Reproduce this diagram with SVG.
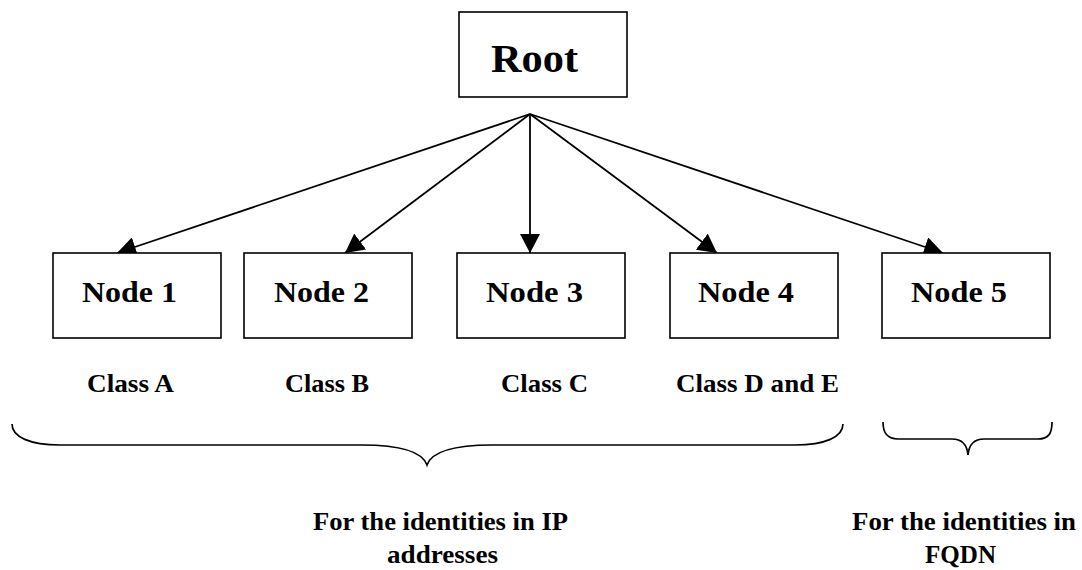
<svg xmlns="http://www.w3.org/2000/svg" width="1082" height="570" viewBox="0 0 1082 570">
  <style>
    .box { fill: #ffffff; stroke: #000000; stroke-width: 1.6; }
    .edge { fill: none; stroke: #000000; stroke-width: 1.8; }
    .brace { fill: none; stroke: #000000; stroke-width: 1.7; }
    .t { font-family: "Liberation Serif", "DejaVu Serif", serif; font-weight: bold; fill: #000000; }
    .root { font-size: 39px; }
    .node { font-size: 29.5px; }
    .cls { font-size: 25px; }
    .cap { font-size: 25px; }
  </style>
  <defs>
    <marker id="arrow" viewBox="0 0 19 20" refX="19" refY="10" markerWidth="19" markerHeight="20" markerUnits="userSpaceOnUse" orient="auto">
      <path d="M0,0 L19,10 L0,20 Z" fill="#000000"/>
    </marker>
  </defs>
  <rect width="1082" height="570" fill="#ffffff"/>

  <g id="connectors">
    <line class="edge" x1="530" y1="114" x2="117" y2="253" marker-end="url(#arrow)"/>
    <line class="edge" x1="530" y1="114" x2="345" y2="253" marker-end="url(#arrow)"/>
    <line class="edge" x1="530" y1="114" x2="530" y2="253" marker-end="url(#arrow)"/>
    <line class="edge" x1="530" y1="114" x2="717" y2="253" marker-end="url(#arrow)"/>
    <line class="edge" x1="530" y1="114" x2="943" y2="253" marker-end="url(#arrow)"/>
  </g>

  <g id="root">
    <rect class="box" x="459" y="12" width="168" height="85"/>
    <text class="t root" x="491" y="72" textLength="87" lengthAdjust="spacingAndGlyphs">Root</text>
  </g>
  <g id="node1">
    <rect class="box" x="53" y="253" width="168" height="85"/>
    <text class="t node" x="82" y="302" textLength="95" lengthAdjust="spacingAndGlyphs">Node 1</text>
  </g>
  <g id="node2">
    <rect class="box" x="244" y="253" width="168" height="85"/>
    <text class="t node" x="274" y="302" textLength="95" lengthAdjust="spacingAndGlyphs">Node 2</text>
  </g>
  <g id="node3">
    <rect class="box" x="457" y="253" width="168" height="85"/>
    <text class="t node" x="486" y="302" textLength="97" lengthAdjust="spacingAndGlyphs">Node 3</text>
  </g>
  <g id="node4">
    <rect class="box" x="670" y="253" width="168" height="85"/>
    <text class="t node" x="698" y="302" textLength="96" lengthAdjust="spacingAndGlyphs">Node 4</text>
  </g>
  <g id="node5">
    <rect class="box" x="882" y="253" width="168" height="85"/>
    <text class="t node" x="911" y="302" textLength="96" lengthAdjust="spacingAndGlyphs">Node 5</text>
  </g>

  <g id="labels">
    <text class="t cls" x="87" y="392" textLength="87" lengthAdjust="spacingAndGlyphs">Class A</text>
    <text class="t cls" x="285" y="392" textLength="84" lengthAdjust="spacingAndGlyphs">Class B</text>
    <text class="t cls" x="501" y="392" textLength="87" lengthAdjust="spacingAndGlyphs">Class C</text>
    <text class="t cls" x="676" y="392" textLength="163" lengthAdjust="spacingAndGlyphs">Class D and E</text>
  </g>

  <g id="brace-ip">
    <path class="brace" d="M12,424 C12,437 30,445 60,445 L362,445 C400,445 422,451 427,465 C432,451 454,445 492,445 L795,445 C825,445 843,437 843,424"/>
    <text class="t cap" x="313" y="530" textLength="255" lengthAdjust="spacingAndGlyphs">For the identities in IP</text>
    <text class="t cap" x="387" y="563" textLength="111" lengthAdjust="spacingAndGlyphs">addresses</text>
  </g>
  <g id="brace-fqdn">
    <path class="brace" d="M883,422 C883,433 887,439 898,439 L952,439 C962,439 967,444 968,455 C969,444 974,439 984,439 L1038,439 C1049,439 1052,433 1052,422"/>
    <text class="t cap" x="852" y="530" textLength="224" lengthAdjust="spacingAndGlyphs">For the identities in</text>
    <text class="t cap" x="925" y="563" textLength="71" lengthAdjust="spacingAndGlyphs">FQDN</text>
  </g>
</svg>
